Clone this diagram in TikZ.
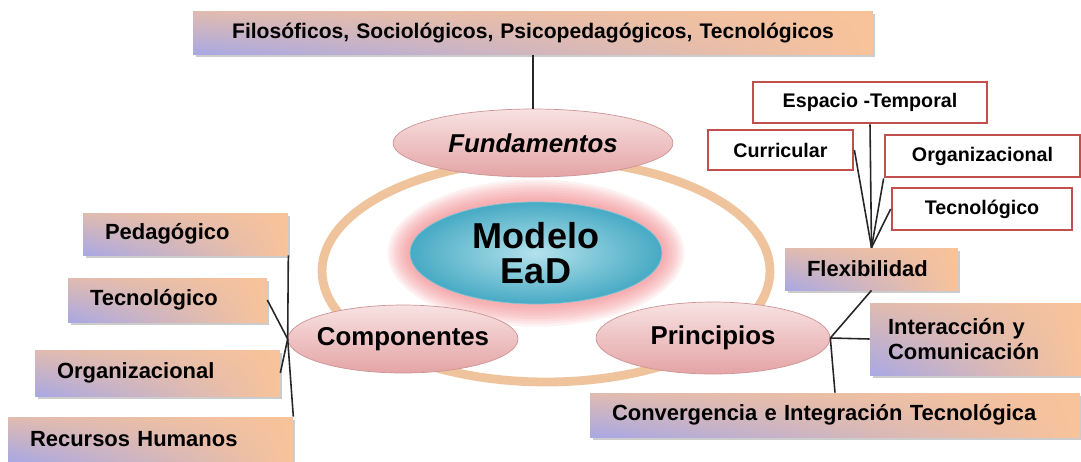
\documentclass[tikz,border=0pt]{standalone}
\usepackage{fontspec}
\setmainfont{Liberation Sans}
\usetikzlibrary{shapes.geometric,shadows,shadings}
\definecolor{peach}{HTML}{F8C39A}
\definecolor{lavender}{HTML}{A8A8E4}
\definecolor{pinkl}{HTML}{F8E2E2}
\definecolor{pinkd}{HTML}{E4A4A6}
\definecolor{cyanl}{HTML}{B4E2EC}
\definecolor{cyand}{HTML}{47AAC4}
\definecolor{glow}{HTML}{F07C80}
\definecolor{ringc}{HTML}{EFC39C}
\definecolor{redb}{HTML}{C0504D}
\tikzset{
  peachbox/.style={rectangle, inner xsep=0.44cm, inner ysep=0pt, align=left,
    lower left=lavender, upper left=peach!70!lavender, lower right=peach, upper right=peach,
    drop shadow={shadow xshift=0.05cm, shadow yshift=-0.05cm, fill=black!40},
    font=\fontsize{12.5}{14.5}\selectfont\bfseries},
  redbox/.style={rectangle, draw=redb, line width=1.6pt, fill=white, inner sep=0pt,
    font=\fontsize{11.2}{13}\selectfont\bfseries},
  pinkell/.style={ellipse, draw=pinkd!90!black, top color=pinkl, bottom color=pinkd, inner xsep=-10pt, inner ysep=0pt,
    font=\fontsize{14.7}{17}\selectfont\bfseries},
  link/.style={draw=black!85, line width=0.9pt}
}
\begin{document}
\begin{tikzpicture}[x=0.02cm, y=-0.02cm]
	\useasboundingbox (0,0) rectangle (1081,461);
	% ring and glow
	\draw[ringc, line width=5pt] (546,271) ellipse [x radius=4.48cm, y radius=2.22cm];
	\foreach \d in {0.05,0.1,...,0.5}
		\fill[glow, opacity=0.1] (536,253) ellipse [x radius={2.52cm+\d cm}, y radius={1.02cm+\d cm}];
	\node[ellipse, draw=cyand!70!white, inner color=cyanl, outer color=cyand, inner sep=0pt, minimum width=5.04cm, minimum height=2.04cm, align=center, font=\fontsize{20.5}{20}\selectfont\bfseries] (modelo) at (536,253) {Modelo\\EaD};
	% ellipses
	\node[pinkell, minimum width=5.6cm, minimum height=1.36cm, font=\fontsize{14.7}{17}\selectfont\bfseries\itshape] (fund) at (533,143) {Fundamentos};
	\node[pinkell, minimum width=4.6cm, minimum height=1.36cm] (comp) at (403,339) {Componentes};
	\node[pinkell, minimum width=4.68cm, minimum height=1.44cm] (prin) at (713,338) {Principios};
	% fundamentos
	\node[peachbox, align=center, text width=12.72cm, minimum height=0.86cm, font=\fontsize{12}{14}\selectfont\bfseries] (fundtxt) at (533,33) {Filosóficos, Sociológicos, Psicopedagógicos, Tecnológicos};
	\draw[link] (fundtxt) -- (fund);
	% componentes
	\node[peachbox, text width=3.22cm, minimum height=0.84cm] (ped) at (185.5,234) {Pedagógico};
	\node[peachbox, text width=3.1cm, minimum height=0.88cm] (tecL) at (167.5,300) {Tecnológico};
	\node[peachbox, text width=4.02cm, minimum height=0.92cm] (orgL) at (157.5,373) {Organizacional};
	\node[peachbox, text width=4.82cm, minimum height=0.88cm] (rec) at (150.5,439) {Recursos Humanos};
	\draw[link] (ped.south east) -- (comp.west);
	\draw[link] (tecL.east) -- (comp.west);
	\draw[link] (orgL.east) -- (comp.west);
	\draw[link] (rec.north east) -- (comp.west);
	% principios
	\node[peachbox, text width=2.58cm, minimum height=0.84cm] (flex) at (871.5,269) {Flexibilidad};
	\node[peachbox, inner xsep=0.36cm, text width=3.5cm, minimum height=1.44cm] (inter) at (975.5,339) {Interacción y\\Comunicación};
	\node[peachbox, text width=8.92cm, minimum height=0.88cm] (conv) at (835,415) {Convergencia e Integración Tecnológica};
	\draw[link] (flex.south) -- (prin.east);
	\draw[link] (inter.west) -- (prin.east);
	\draw[link] (conv.north) -- (prin.east);
	% flexibilidad
	\node[redbox, minimum width=4.68cm, minimum height=0.82cm] (esp) at (870,102.5) {Espacio -Temporal};
	\node[redbox, minimum width=2.9cm, minimum height=0.8cm] (cur) at (780.5,150) {Curricular};
	\node[redbox, minimum width=3.9cm, minimum height=0.84cm] (orgR) at (982.5,156) {Organizacional};
	\node[redbox, minimum width=3.6cm, minimum height=0.84cm] (tecR) at (982,209) {Tecnológico};
	\draw[link] (esp.south) -- (flex.north);
	\draw[link] (cur.east) -- (flex.north);
	\draw[link] (orgR.south west) -- (flex.north);
	\draw[link] (tecR.west) -- (flex.north);
\end{tikzpicture}
\end{document}
